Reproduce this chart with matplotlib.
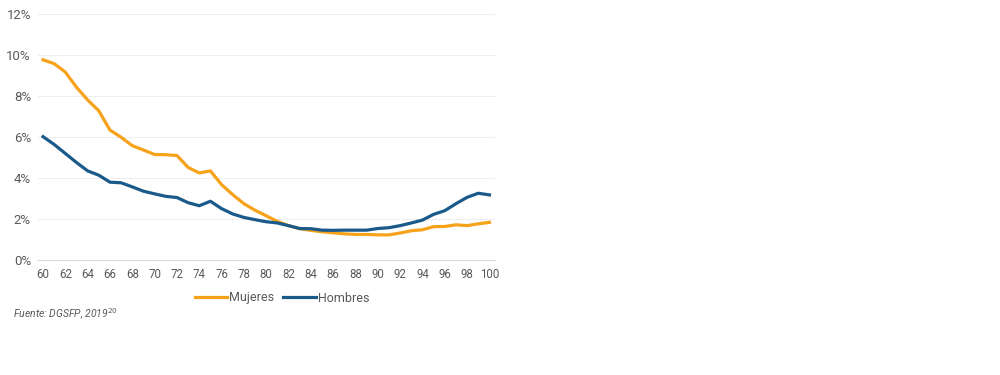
import matplotlib
matplotlib.use("Agg")
import matplotlib.pyplot as plt

plt.rcParams['font.family'] = ['Roboto', 'DejaVu Sans']

edades = list(range(60, 101))

mujeres = [9.76, 9.57, 9.16, 8.42, 7.80, 7.27, 6.33, 5.98, 5.57, 5.36,
           5.14, 5.13, 5.09, 4.51, 4.24, 4.34, 3.67, 3.18, 2.74, 2.42,
           2.15, 1.88, 1.67, 1.52, 1.44, 1.37, 1.32, 1.27, 1.24, 1.24,
           1.22, 1.22, 1.31, 1.42, 1.47, 1.62, 1.63, 1.71, 1.67, 1.76,
           1.83]
hombres = [6.01, 5.63, 5.19, 4.75, 4.34, 4.13, 3.79, 3.76, 3.56, 3.35,
           3.22, 3.10, 3.04, 2.79, 2.64, 2.86, 2.50, 2.24, 2.07, 1.96,
           1.86, 1.80, 1.67, 1.53, 1.52, 1.45, 1.44, 1.45, 1.45, 1.45,
           1.53, 1.57, 1.67, 1.80, 1.94, 2.22, 2.40, 2.74, 3.05, 3.25,
           3.17]

yticks = [0, 2, 4, 6, 8, 10, 12]
xticks = list(range(60, 101, 2))

gris = '#595959'

fig = plt.figure(figsize=(10, 3.75), dpi=100)
ax = fig.add_axes([0.038, 0.307, 0.457, 0.656])

ax.plot(edades, mujeres, color='#F7A21B', lw=2.3, label='Mujeres')
ax.plot(edades, hombres, color='#1A5A8A', lw=2.3, label='Hombres')

ax.set_xlim(59.55, 100.5)
ax.set_ylim(0, 12)
ax.set_yticks(yticks)
ax.set_yticklabels([f'{v}%' for v in yticks], fontsize=9.5, color=gris)
ax.set_xticks(xticks)
ax.set_xticklabels([str(v) for v in xticks], fontsize=8.3, color=gris)
ax.tick_params(length=0, pad=6)
ax.tick_params(axis='y', pad=5)

ax.grid(axis='y', color='#EEEEEE', lw=0.8)
ax.set_axisbelow(True)
for s in ['top', 'right', 'left']:
    ax.spines[s].set_visible(False)
ax.spines['bottom'].set_color('#D9D9D9')

fig.legend(loc='center', bbox_to_anchor=(0.282, 1 - 298 / 375), ncol=2,
           frameon=False, fontsize=9, handlelength=2.6, handletextpad=0.15,
           columnspacing=0.7, labelcolor=gris)

fig.text(0.013, 1 - 314 / 375, 'Fuente: DGSFP, 2019$^{20}$', fontsize=7.5,
         style='italic', color=gris, va='center')

fig.savefig('out.png', dpi=100)
